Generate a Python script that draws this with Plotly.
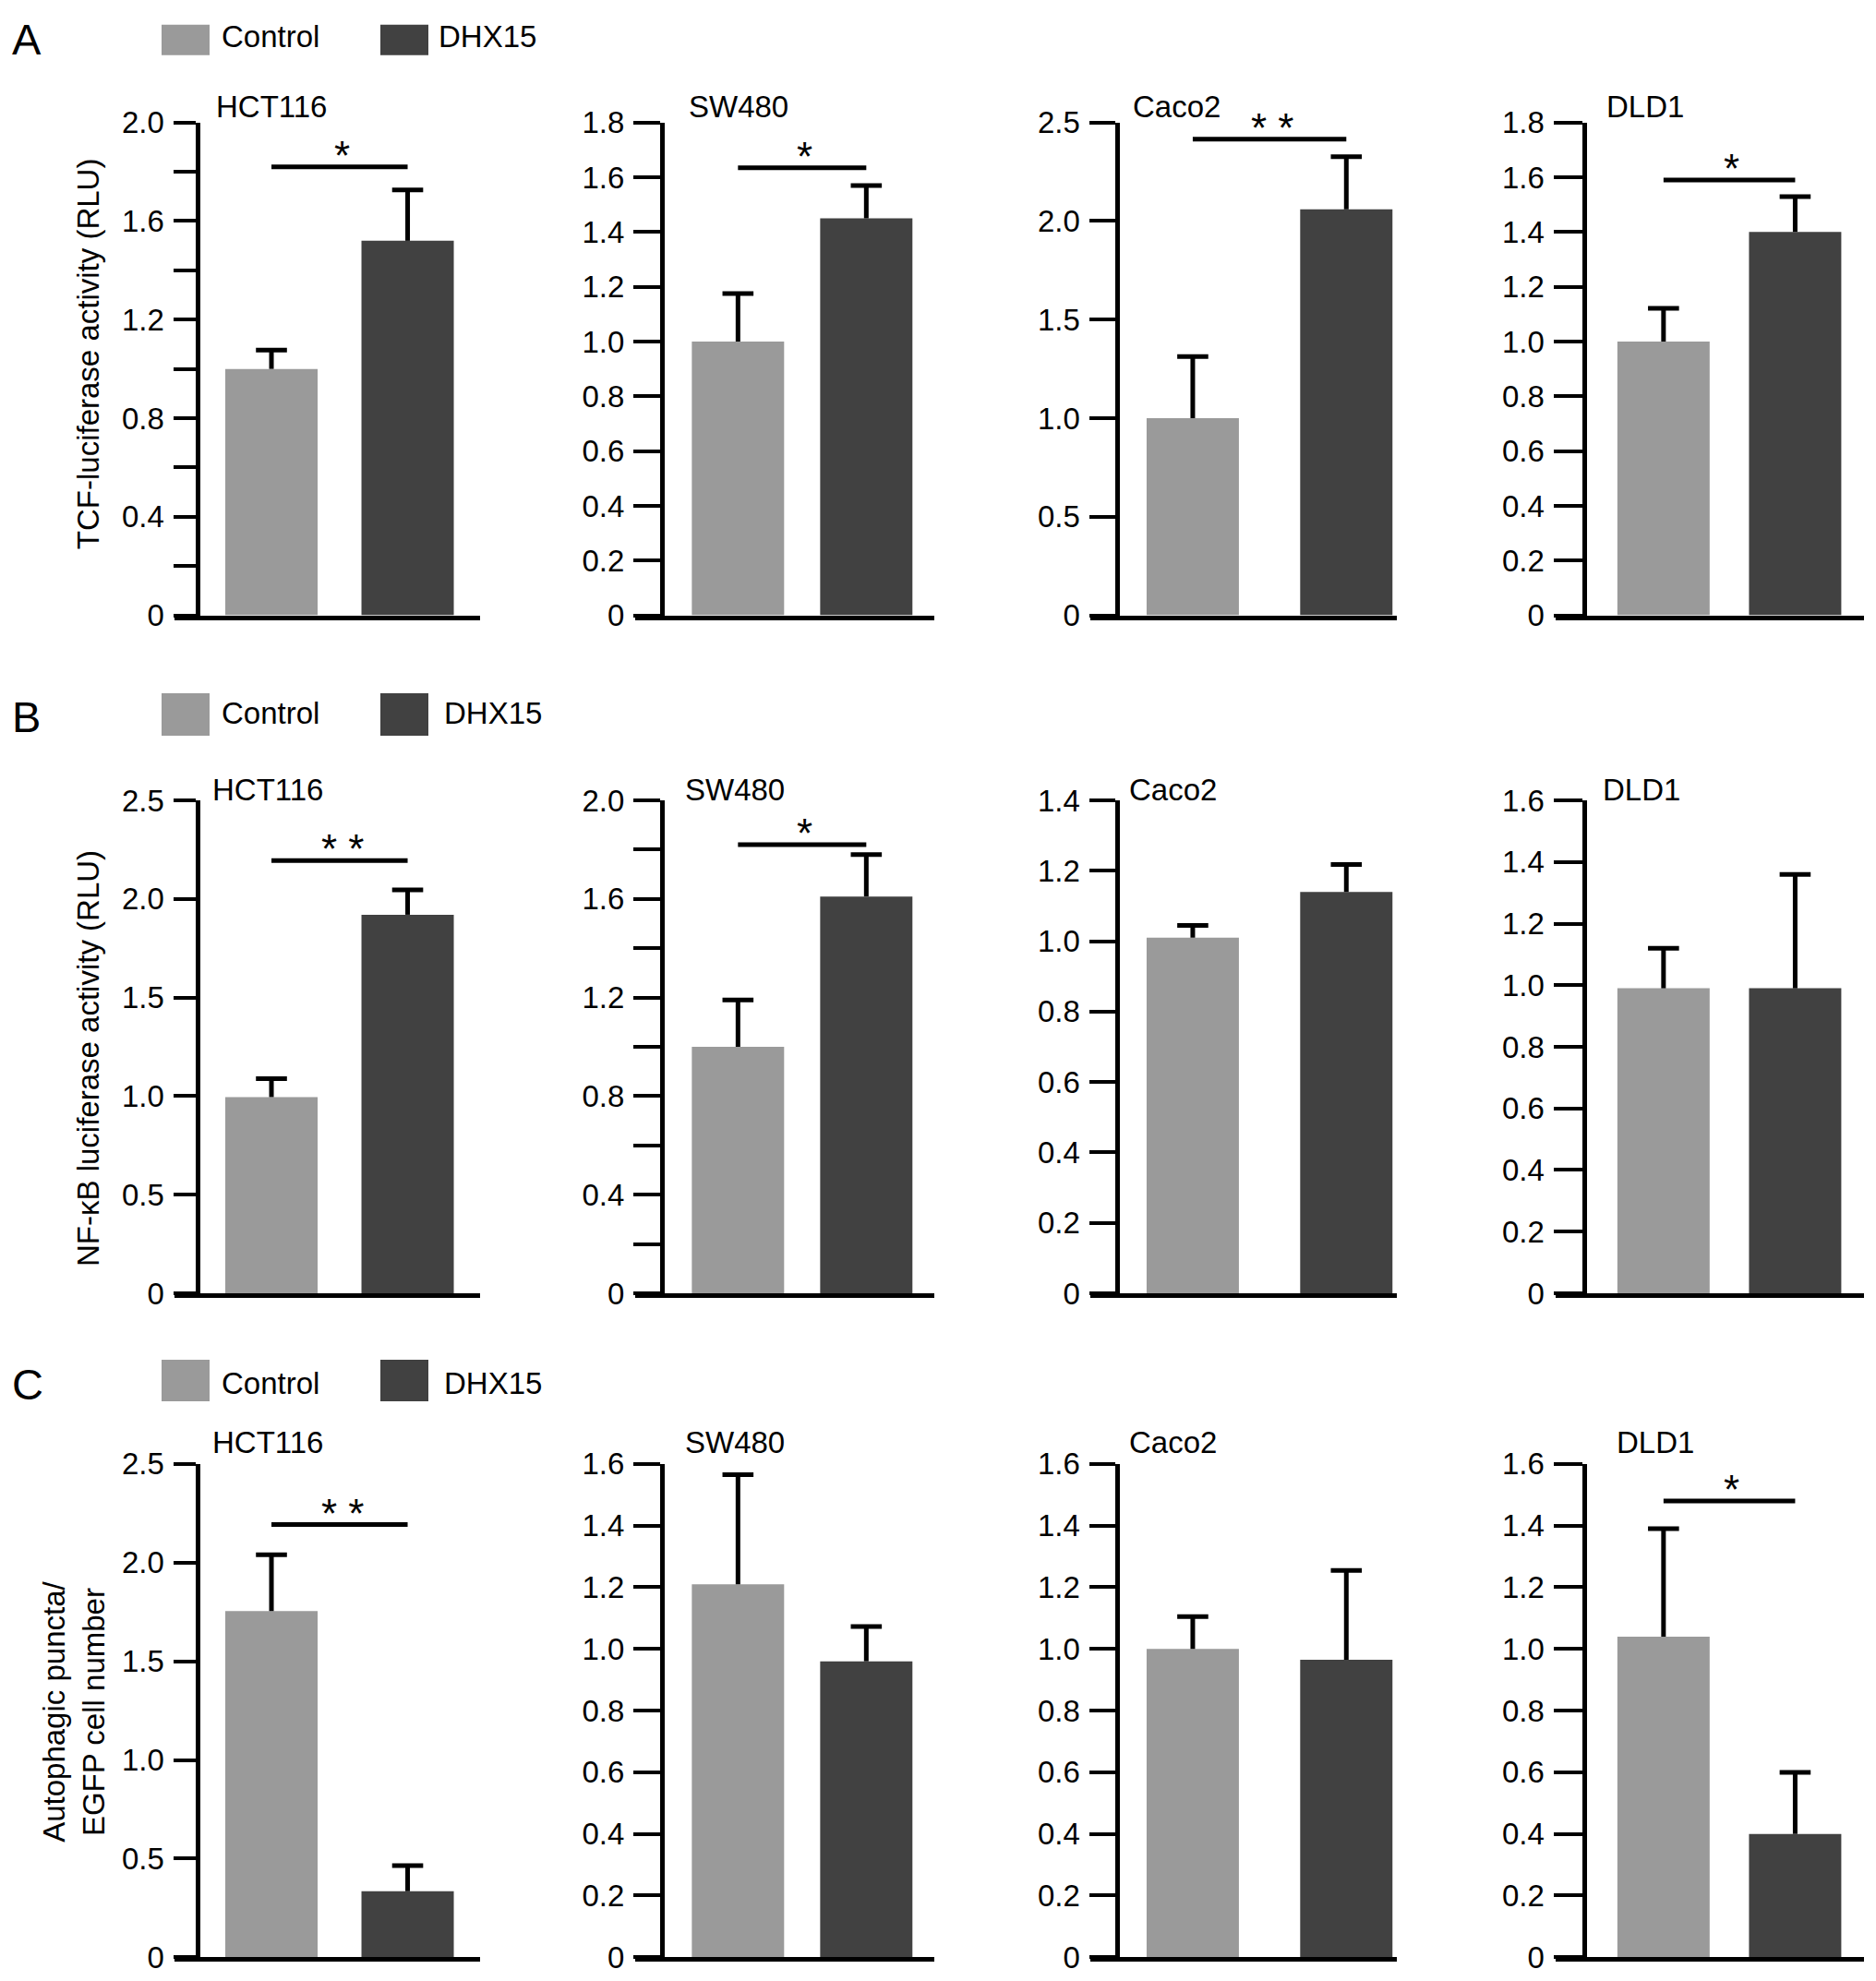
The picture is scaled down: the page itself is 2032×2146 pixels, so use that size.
import plotly.graph_objects as go

# page size; the figure sits inside the 8 px body margin
PAGE_W, PAGE_H = 2032, 2146
M = 8
W, H = PAGE_W - 2 * M, PAGE_H - M
FONT = 'Liberation Sans, Arial, Helvetica, sans-serif'

# Data
cell_lines = ['HCT116', 'SW480', 'Caco2', 'DLD1']
groups = ['Control', 'DHX15']
group_colors = ['#9a9a9a', '#414141']
panel_letters = ['A', 'B', 'C']
y_titles = ['TCF-luciferase activity (RLU)',
            'NF-κB luciferase activity (RLU)',
            'Autophagic puncta/<br>EGFP cell number']

# A: TCF-luciferase activity
tcf_control = [1.00, 1.00, 1.00, 1.00]
tcf_control_err = [0.076, 0.175, 0.313, 0.121]
tcf_dhx15 = [1.52, 1.45, 2.06, 1.40]
tcf_dhx15_err = [0.206, 0.12, 0.267, 0.129]
tcf_sig = ['*', '*', '* *', '*']
tcf_sig_y = [1.82, 1.635, 2.416, 1.59]
tcf_ymax = [2.0, 1.8, 2.5, 1.8]
tcf_tick_step = [0.2, 0.2, 0.5, 0.2]
tcf_label_step = [0.4, 0.2, 0.5, 0.2]

# B: NF-kB luciferase activity
nfkb_control = [0.995, 1.00, 1.01, 0.99]
nfkb_control_err = [0.094, 0.19, 0.035, 0.13]
nfkb_dhx15 = [1.92, 1.61, 1.14, 0.99]
nfkb_dhx15_err = [0.126, 0.17, 0.078, 0.37]
nfkb_sig = ['* *', '*', '', '']
nfkb_sig_y = [2.195, 1.82, None, None]
nfkb_ymax = [2.5, 2.0, 1.4, 1.6]
nfkb_tick_step = [0.5, 0.2, 0.2, 0.2]
nfkb_label_step = [0.5, 0.4, 0.2, 0.2]

# C: autophagic puncta / EGFP cell number
auto_control = [1.754, 1.21, 1.00, 1.04]
auto_control_err = [0.286, 0.355, 0.105, 0.35]
auto_dhx15 = [0.335, 0.96, 0.965, 0.40]
auto_dhx15_err = [0.13, 0.113, 0.29, 0.20]
auto_sig = ['* *', '', '', '*']
auto_sig_y = [2.193, None, None, 1.48]
auto_ymax = [2.5, 1.6, 1.6, 1.6]
auto_tick_step = [0.5, 0.2, 0.2, 0.2]
auto_label_step = [0.5, 0.2, 0.2, 0.2]

panels = [
    (tcf_control, tcf_control_err, tcf_dhx15, tcf_dhx15_err, tcf_sig, tcf_sig_y,
     tcf_ymax, tcf_tick_step, tcf_label_step),
    (nfkb_control, nfkb_control_err, nfkb_dhx15, nfkb_dhx15_err, nfkb_sig, nfkb_sig_y,
     nfkb_ymax, nfkb_tick_step, nfkb_label_step),
    (auto_control, auto_control_err, auto_dhx15, auto_dhx15_err, auto_sig, auto_sig_y,
     auto_ymax, auto_tick_step, auto_label_step),
]

# Layout geometry, in target-picture pixels
col_dom = [(189, 520), (688, 1012), (1181, 1512.5), (1684.5, 2019)]
col_axis = [213.5, 717, 1209.5, 1715.5]
col_range = [(-0.712, 1.532), (-0.801, 1.530), (-0.667, 1.326), (-0.823, 1.523)]
bar_width = [0.678, 0.719, 0.601, 0.701]
row_px = [(131, 665), (865.5, 1399.5), (1584.5, 2119)]
title_x = [[232, 744, 1225, 1738], [228, 740, 1221, 1734], [228, 740, 1221, 1749]]
title_y = [114, 854, 1561]
legend_sq_y = [(25, 58), (749.5, 795.5), (1471.5, 1516.5)]
legend_text_y = [38, 771, 1497]
legend_sq_x = [(175, 227), (412, 464)]
legend_text_x = [[238, 473], [238, 479], [238, 479]]
letter_y = [41, 775, 1498]
ytitle_x = [95.5, 95.5, 80.5]
ytitle_y = [382, 1145, 1853]


def fx(x):
    return (x - M) / W


def fy(y):
    # vertical calibration of the photographed page
    yp = 1.0174 * y - 16.7
    return 1 - (yp - M) / H


def ticks(ymax, step, label_step):
    n = int(round(ymax / step))
    vals = [round(i * step, 3) for i in range(n + 1)]
    text = []
    for v in vals:
        k = v / label_step
        if v == 0:
            text.append('0')
        elif abs(k - round(k)) < 1e-6:
            text.append(f'{v:.1f}')
        else:
            text.append('')
    return vals, text


fig = go.Figure()
layout = {}
annotations = []
shapes = []

for r, p in enumerate(panels):
    ctrl, ctrl_err, dhx, dhx_err, sig, sig_y, ymax, tstep, lstep = p
    top, bottom = row_px[r]
    for c in range(4):
        n = r * 4 + c + 1
        xa = 'x' if n == 1 else f'x{n}'
        ya = 'y' if n == 1 else f'y{n}'
        means = [ctrl[c], dhx[c]]
        errs = [ctrl_err[c], dhx_err[c]]

        fig.add_trace(go.Bar(
            x=groups, y=means, width=bar_width[c],
            marker=dict(color=group_colors, line=dict(width=0)),
            xaxis=xa, yaxis=ya, showlegend=False,
        ))
        # one-sided error bars: stem from the bar top, cap marker at the end
        fig.add_trace(go.Scatter(
            x=groups, y=[m + e for m, e in zip(means, errs)],
            mode='markers',
            marker=dict(symbol='line-ew', size=24, color='black',
                        line=dict(width=5, color='black')),
            error_y=dict(type='data', symmetric=False, array=[0, 0],
                         arrayminus=errs, width=0, thickness=5, color='black'),
            xaxis=xa, yaxis=ya, showlegend=False, cliponaxis=False,
        ))
        if sig[c]:
            fig.add_trace(go.Scatter(
                x=groups, y=[sig_y[c], sig_y[c]], mode='lines',
                line=dict(color='black', width=5),
                xaxis=xa, yaxis=ya, showlegend=False, cliponaxis=False,
            ))
            annotations.append(dict(
                x=0.52, y=sig_y[c], xref=xa, yref=ya, text=sig[c],
                showarrow=False, xanchor='center', yanchor='bottom', yshift=-14,
                font=dict(size=44, color='black', family=FONT),
            ))

        tv, tt = ticks(ymax[c], tstep[c], lstep[c])
        d0, d1 = col_dom[c]
        layout['xaxis' if n == 1 else f'xaxis{n}'] = dict(
            domain=[fx(d0), fx(d1)], anchor=ya, type='category',
            categoryorder='array', categoryarray=groups,
            range=list(col_range[c]), showline=True, linecolor='black',
            linewidth=5, ticks='', showticklabels=False, showgrid=False,
            zeroline=False,
        )
        layout['yaxis' if n == 1 else f'yaxis{n}'] = dict(
            domain=[fy(bottom), fy(top)], anchor='free',
            position=fx(col_axis[c]), range=[0, ymax[c]],
            showline=True, linecolor='black', linewidth=5,
            ticks='outside', ticklen=round(col_axis[c] - d0), tickwidth=4,
            tickcolor='black', tickvals=tv, ticktext=tt,
            tickfont=dict(size=33, color='black', family=FONT),
            ticklabelstandoff=3, showgrid=False, zeroline=False,
        )

        annotations.append(dict(
            x=fx(title_x[r][c]), y=fy(title_y[r]), xref='paper', yref='paper',
            text=cell_lines[c], showarrow=False, xanchor='left', yanchor='middle',
            font=dict(size=33, color='black', family=FONT),
        ))

    # panel letter
    annotations.append(dict(
        x=fx(11), y=fy(letter_y[r]), xref='paper', yref='paper',
        text=panel_letters[r], showarrow=False, xanchor='left', yanchor='middle',
        font=dict(size=47, color='black', family=FONT),
    ))
    # y-axis title
    annotations.append(dict(
        x=fx(ytitle_x[r]), y=fy(ytitle_y[r]), xref='paper', yref='paper',
        text=y_titles[r], showarrow=False, textangle=-90,
        xanchor='center', yanchor='middle',
        font=dict(size=33, color='black', family=FONT),
    ))
    # legend
    sy0, sy1 = legend_sq_y[r]
    for g in range(2):
        sx0, sx1 = legend_sq_x[g]
        shapes.append(dict(
            type='rect', xref='paper', yref='paper',
            x0=fx(sx0), x1=fx(sx1), y0=fy(sy1), y1=fy(sy0),
            fillcolor=group_colors[g], line=dict(width=0),
        ))
        annotations.append(dict(
            x=fx(legend_text_x[r][g]), y=fy(legend_text_y[r]), xref='paper', yref='paper',
            text=groups[g], showarrow=False, xanchor='left', yanchor='middle',
            font=dict(size=33, color='black', family=FONT),
        ))

fig.update_layout(
    width=W, height=H,
    margin=dict(l=0, r=0, t=0, b=0),
    paper_bgcolor='white', plot_bgcolor='white',
    showlegend=False,
    annotations=annotations, shapes=shapes,
    font=dict(family=FONT, color='black'),
    **layout,
)

fig.write_html('out.html')
